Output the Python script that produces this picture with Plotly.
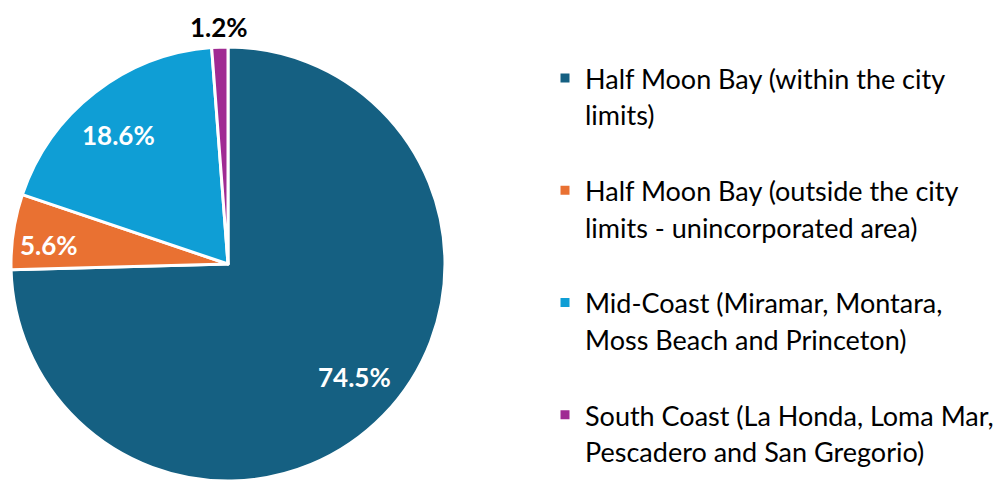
import math
import plotly.graph_objects as go

categories = [
    "Half Moon Bay (within the city|limits)",
    "Half Moon Bay (outside the city|limits - unincorporated area)",
    "Mid-Coast (Miramar, Montara,|Moss Beach and Princeton)",
    "South Coast (La Honda, Loma Mar,|Pescadero and San Gregorio)",
]
values = [74.5, 5.6, 18.6, 1.2]
colors = ["#156082", "#E97132", "#0F9ED5", "#A02B93"]

# label placement (fraction of radius, angle shift in degrees) and colours
label_radius = [0.78, 0.83, 0.78, 1.095]
label_shift = [-2.5, -2.5, -2.5, 0.0]
label_colors = ["white", "white", "white", "black"]

SPAN = "<span style='font-size:27px'>{}</span>"


def legend_label(cat):
    parts = cat.split("|")
    return " <br>" + "<br>".join(SPAN.format(p) for p in parts)


labels = [legend_label(c) for c in categories]

# page body has an 8px margin, so the figure is drawn 8px smaller
OFF = 8
W, H = 1001 - OFF, 481 - OFF
X0, X1 = 10 - OFF, 446 - OFF   # pie extent in figure px
Y_TOP = 47 - OFF
dom_x = [X0 / W, X1 / W]
dom_y = [0, (H - Y_TOP) / H]

fig = go.Figure(
    go.Pie(
        labels=labels,
        values=values,
        sort=False,
        direction="clockwise",
        rotation=0,
        marker=dict(colors=colors, line=dict(color="white", width=3)),
        textinfo="none",
        domain=dict(x=dom_x, y=dom_y),
        hoverinfo="skip",
    )
)

# percentage labels placed near each slice's mid-angle
cx_px = (X0 + X1) / 2
r_px = min(X1 - X0, H - Y_TOP) / 2
cy_px = H - r_px
total = sum(values)
cum = 0.0
for v, rf, sh, col in zip(values, label_radius, label_shift, label_colors):
    mid = (cum + v / 2) / total * 2 * math.pi + math.radians(sh)
    cum += v
    px = cx_px + rf * r_px * math.sin(mid)
    py = cy_px - rf * r_px * math.cos(mid)
    fig.add_annotation(
        x=px / W, y=1 - py / H, xref="paper", yref="paper",
        text=f"{v:.1f}%", showarrow=False, borderpad=0,
        font=dict(family="Lato", size=26, color=col, weight="bold"),
        xanchor="center", yanchor="middle",
    )

fig.update_layout(
    width=W,
    height=H,
    margin=dict(l=0, r=0, t=0, b=0, autoexpand=False),
    paper_bgcolor="white",
    plot_bgcolor="white",
    showlegend=True,
    legend=dict(
        x=537 / W,
        xanchor="left",
        y=1 - 9 / H,
        yanchor="top",
        font=dict(family="Lato", size=28, color="black"),
        valign="middle",
        bgcolor="rgba(0,0,0,0)",
        itemclick=False,
    ),
)

fig.write_html("out.html")
